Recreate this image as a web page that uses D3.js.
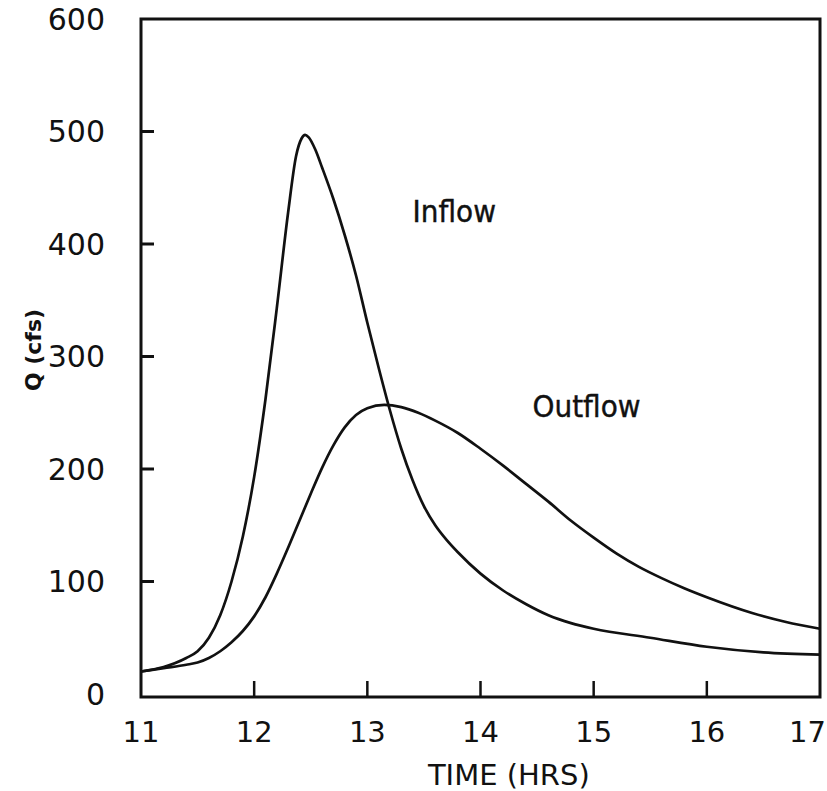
<!DOCTYPE html>
<html>
<head>
<meta charset="utf-8">
<script src="https://cdn.jsdelivr.net/npm/d3@7"></script>
<style>
  html, body { margin: 0; padding: 0; background: #fff; }
  svg { display: block; }
</style>
</head>
<body>
<svg id="chart" width="827" height="791"></svg>
<script>
// Hydrograph: inflow vs. routed outflow (Q in cfs over time in hours)
const timeTicks = [11, 12, 13, 14, 15, 16, 17];
const flowTicks = [0, 100, 200, 300, 400, 500, 600];

const inflowTime = [11.0, 11.2, 11.4, 11.5, 11.6, 11.7, 11.8, 11.9, 12.0, 12.1, 12.2, 12.3, 12.37, 12.42, 12.45, 12.48, 12.54, 12.6, 12.7, 12.8, 12.9, 13.0, 13.1, 13.2, 13.3, 13.4, 13.5, 13.6, 13.7, 13.8, 14.0, 14.2, 14.4, 14.6, 14.8, 15.0, 15.5, 16.0, 16.5, 17.0];
const inflowQ    = [20, 24, 32, 38, 50, 70, 100, 140, 193, 262, 343, 428, 478, 494, 497, 495, 484, 468, 440, 408, 372, 330, 290, 252, 218, 190, 167, 150, 137, 126, 107, 92, 80, 70, 63, 58, 50, 42, 37, 35];

const outflowTime = [11.0, 11.2, 11.4, 11.5, 11.6, 11.7, 11.8, 11.9, 12.0, 12.1, 12.2, 12.3, 12.4, 12.5, 12.6, 12.7, 12.8, 12.9, 13.0, 13.15, 13.3, 13.45, 13.6, 13.8, 14.0, 14.2, 14.4, 14.6, 14.8, 15.0, 15.2, 15.4, 15.6, 15.8, 16.0, 16.4, 16.7, 17.0];
const outflowQ    = [20, 23, 26, 28, 32, 38, 46, 56, 69, 86, 107, 130, 154, 178, 201, 221, 237, 248, 254, 257, 255, 250, 243, 232, 218, 203, 187, 171, 154, 139, 125, 113, 103, 94, 86, 72, 64, 58];

const seriesLabels = [
  { text: "Inflow",  t: 13.40, q: 420 },
  { text: "Outflow", t: 14.46, q: 246 }
];

const svg = d3.select("#chart");
const x = d3.scaleLinear().domain([11, 17]).range([141, 820]);
const y = d3.scaleLinear().domain([0, 600]).range([694, 19]);
const frameBottom = 697;

const ink = "#111";

// plot frame
svg.append("rect")
  .attr("x", x(11)).attr("y", y(600))
  .attr("width", x(17) - x(11)).attr("height", frameBottom - y(600))
  .attr("fill", "none").attr("stroke", ink).attr("stroke-width", 3);

// x ticks (inward) and labels
svg.append("g").selectAll("line")
  .data(timeTicks.slice(1, -1)).join("line")
  .attr("x1", d => x(d)).attr("x2", d => x(d))
  .attr("y1", frameBottom).attr("y2", frameBottom - 16)
  .attr("stroke", ink).attr("stroke-width", 2.5);

svg.append("g").selectAll("text")
  .data(timeTicks).join("text")
  .attr("x", (d, i) => i === timeTicks.length - 1 ? 826 : x(d))
  .attr("y", 742)
  .attr("text-anchor", (d, i) => i === timeTicks.length - 1 ? "end" : "middle")
  .attr("font-family", "DejaVu Sans, sans-serif")
  .attr("font-size", 29)
  .attr("fill", ink)
  .text(d => d);

// y ticks (inward) and labels
svg.append("g").selectAll("line")
  .data(flowTicks.slice(1, -1)).join("line")
  .attr("x1", x(11)).attr("x2", x(11) + 13)
  .attr("y1", d => y(d)).attr("y2", d => y(d))
  .attr("stroke", ink).attr("stroke-width", 3);

svg.append("g").selectAll("text")
  .data(flowTicks).join("text")
  .attr("x", 105).attr("y", d => y(d))
  .attr("dy", "0.36em")
  .attr("text-anchor", "end")
  .attr("font-family", "DejaVu Sans, sans-serif")
  .attr("font-size", 30)
  .attr("fill", ink)
  .text(d => d);

// axis titles
svg.append("text")
  .attr("x", x(14.25)).attr("y", 785)
  .attr("text-anchor", "middle")
  .attr("font-family", "DejaVu Sans, sans-serif")
  .attr("font-size", 29)
  .attr("fill", ink)
  .text("TIME (HRS)");

svg.append("text")
  .attr("transform", "translate(41,350) rotate(-90)")
  .attr("text-anchor", "middle")
  .attr("font-family", "DejaVu Sans, sans-serif")
  .attr("font-weight", "bold")
  .attr("font-size", 22)
  .attr("fill", ink)
  .text("Q (cfs)");

// curves
const line = d3.line()
  .x(d => x(d[0])).y(d => y(d[1]))
  .curve(d3.curveMonotoneX);

const inflow = d3.zip(inflowTime, inflowQ);
const outflow = d3.zip(outflowTime, outflowQ);

svg.append("path").datum(inflow)
  .attr("d", line)
  .attr("fill", "none").attr("stroke", ink)
  .attr("stroke-width", 2.7).attr("stroke-linejoin", "round");

svg.append("path").datum(outflow)
  .attr("d", line)
  .attr("fill", "none").attr("stroke", ink)
  .attr("stroke-width", 2.7).attr("stroke-linejoin", "round");

// series labels
svg.append("g").selectAll("text")
  .data(seriesLabels).join("text")
  .attr("x", d => x(d.t)).attr("y", d => y(d.q))
  .attr("font-family", "'Liberation Sans Narrow', 'DejaVu Sans Condensed', sans-serif")
  .attr("font-size", 31)
  .attr("fill", ink)
  .attr("stroke", ink).attr("stroke-width", 0.4)
  .text(d => d.text);
</script>
</body>
</html>
